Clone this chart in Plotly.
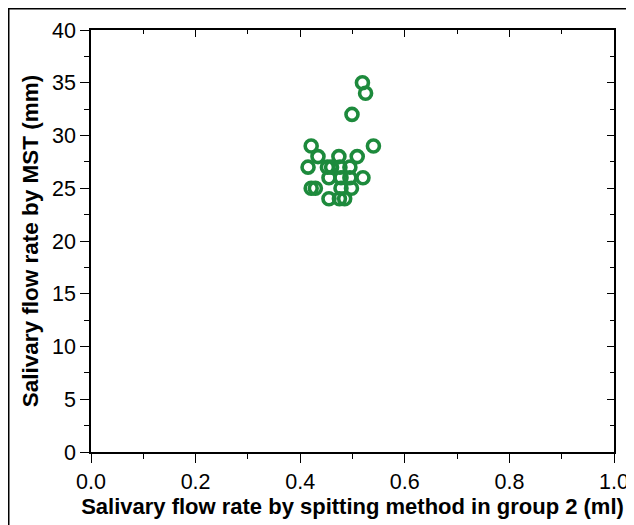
import plotly.graph_objects as go

# Data
flow_spitting_ml = [0.519, 0.525, 0.499, 0.540, 0.421, 0.434, 0.474, 0.509,
                    0.415, 0.452, 0.460, 0.476, 0.495, 0.455, 0.478, 0.495,
                    0.520, 0.421, 0.429, 0.478, 0.498, 0.455, 0.475, 0.485]
flow_mst_mm = [35, 34, 32, 29, 29, 28, 28, 28,
               27, 27, 27, 27, 27, 26, 26, 26,
               26, 25, 25, 25, 25, 24, 24, 24]

x_title = "Salivary flow rate by spitting method in group 2 (ml)"
y_title = "Salivary flow rate by MST (mm)"

green = "#1d8a3c"
font_family = "Liberation Sans, Arial, sans-serif"

W, H = 626, 517
ML, MR, MT, MB = 83, 20, 22, 73
PW, PH = W - ML - MR, H - MT - MB

fig = go.Figure()
fig.add_trace(go.Scatter(
    x=flow_spitting_ml, y=flow_mst_mm, mode="markers",
    marker=dict(symbol="circle-open", size=12, color=green,
                line=dict(width=3.6, color=green)),
    showlegend=False, hoverinfo="x+y",
))
fig.add_trace(go.Scatter(x=[None], y=[None], xaxis="x2", yaxis="y2",
                         showlegend=False, hoverinfo="skip"))

axis_common = dict(showgrid=False, zeroline=False, showline=True,
                   linecolor="black", linewidth=1.5, mirror=False,
                   automargin=False)

fig.update_layout(
    width=W, height=H,
    margin=dict(l=ML, r=MR, t=MT, b=MB),
    paper_bgcolor="white", plot_bgcolor="white",
    font=dict(family=font_family, color="black"),
    xaxis=dict(range=[0, 1.0], dtick=0.2, tick0=0, tickformat=".1f",
               ticks="outside", ticklen=9, tickwidth=1.3, tickcolor="black",
               minor=dict(dtick=0.1, ticks="outside", ticklen=5, tickwidth=1.2,
                          tickcolor="black"),
               tickfont=dict(size=21.5, family=font_family),
               title=dict(text="<b>" + x_title + "</b>",
                          font=dict(size=22, family=font_family), standoff=4),
               **axis_common),
    yaxis=dict(range=[0, 40], dtick=5, tick0=0,
               ticks="outside", ticklen=9, tickwidth=1.3, tickcolor="black",
               minor=dict(dtick=2.5, ticks="outside", ticklen=5, tickwidth=1.2,
                          tickcolor="black"),
               tickfont=dict(size=21.5, family=font_family),
               title=dict(text="<b>" + y_title + "</b>",
                          font=dict(size=22.5, family=font_family), standoff=7),
               **axis_common),
    xaxis2=dict(range=[0, 1.0], dtick=0.2, tick0=0, overlaying="x", side="top",
                showticklabels=False, ticks="inside", ticklen=7, tickwidth=1.3,
                tickcolor="black",
                minor=dict(dtick=0.1, ticks="inside", ticklen=4, tickwidth=1.2,
                           tickcolor="black"),
                **axis_common),
    yaxis2=dict(range=[0, 40], dtick=5, tick0=0, overlaying="y", side="right",
                showticklabels=False, ticks="inside", ticklen=7, tickwidth=1.3,
                tickcolor="black",
                minor=dict(dtick=2.5, ticks="inside", ticklen=4, tickwidth=1.2,
                           tickcolor="black"),
                **axis_common),
    shapes=[dict(type="rect", xref="paper", yref="paper",
                 x0=(0.75 - ML) / PW, x1=(W + 20 - ML) / PW,
                 y0=(PH + MT - H - 20) / PH, y1=(PH + MT - 0.75) / PH,
                 line=dict(color="black", width=1.5), fillcolor="rgba(0,0,0,0)",
                 layer="below")],
)

fig.write_html("out.html")
